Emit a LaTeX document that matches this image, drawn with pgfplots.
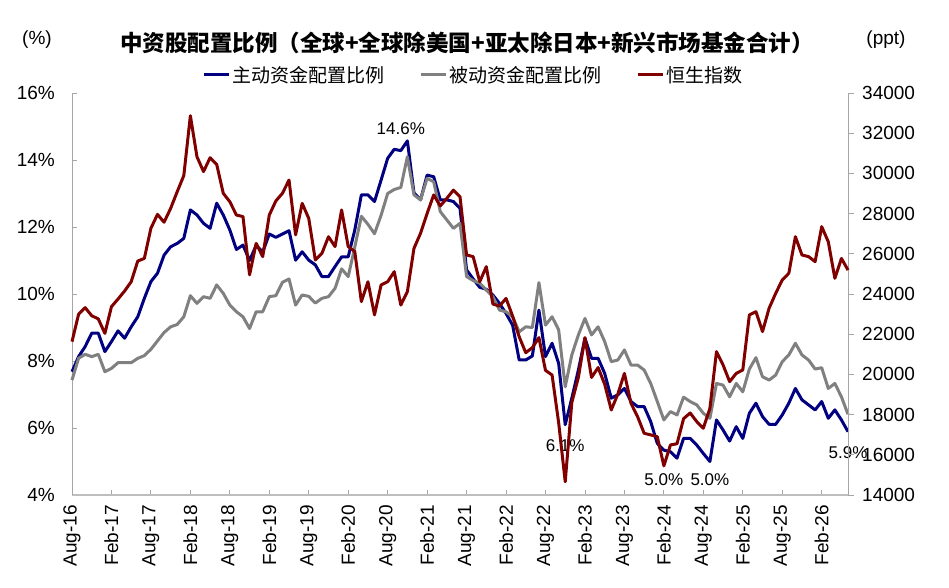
\documentclass[border=0pt]{standalone}
\usepackage{fontspec}
\setmainfont{Liberation Sans}
\newfontfamily\cjk{Noto Sans CJK SC}
\usepackage{pgfplots}
\usepackage{pgfplotstable}
\pgfplotsset{compat=1.18}
\definecolor{cblue}{RGB}{0,0,128}
\definecolor{cgray}{RGB}{128,128,128}
\definecolor{cred}{RGB}{128,0,0}
\definecolor{axgray}{RGB}{166,166,166}
\definecolor{axgrayb}{RGB}{190,190,190}

\pgfplotstableread{
i act pas hsi
0 7.68 7.43 21630
1 8.13 8.08 22990
2 8.43 8.20 23320
3 8.83 8.13 22920
4 8.83 8.20 22760
5 8.28 7.68 22040
6 8.58 7.78 23370
7 8.90 7.95 23750
8 8.68 7.95 24150
9 9.02 7.95 24610
10 9.32 8.08 25640
11 9.87 8.16 25770
12 10.37 8.35 27270
13 10.62 8.60 27960
14 11.16 8.85 27570
15 11.41 9.02 28260
16 11.51 9.09 29090
17 11.66 9.32 29890
18 12.51 9.95 32870
19 12.36 9.72 30830
20 12.11 9.92 30090
21 11.96 9.87 30780
22 12.71 10.27 30450
23 12.36 10.02 29010
24 11.91 9.67 28590
25 11.33 9.47 27930
26 11.46 9.32 27850
27 11.00 8.97 24950
28 11.45 9.47 26520
29 11.25 9.47 25860
30 11.79 9.92 27930
31 11.69 9.95 28630
32 11.79 10.35 29010
33 11.89 10.45 29670
34 11.01 9.67 26940
35 11.26 9.97 28510
36 11.01 9.93 27760
37 10.87 9.73 25690
38 10.52 9.87 26020
39 10.52 9.92 26850
40 10.82 10.17 26360
41 11.11 10.75 28180
42 11.11 10.52 26360
43 11.91 11.40 26110
44 12.96 12.32 23620
45 12.96 12.08 24610
46 12.76 11.80 22960
47 13.40 12.35 24450
48 14.05 13.00 24610
49 14.32 13.12 25110
50 14.28 13.18 23450
51 14.57 14.10 24120
52 13.02 12.96 26270
53 12.81 12.81 27020
54 13.55 13.45 28010
55 13.50 13.35 28930
56 12.81 12.46 28380
57 12.81 12.21 28760
58 12.76 11.96 29170
59 12.56 12.11 28840
60 10.72 10.52 25940
61 10.45 10.40 25860
62 10.20 10.32 24610
63 10.14 10.12 25360
64 9.97 9.92 23500
65 9.72 9.52 23400
66 9.42 9.47 23780
67 9.07 9.32 22900
68 8.03 8.87 21870
69 8.03 9.02 21080
70 8.15 9.00 21330
71 9.52 10.34 21830
72 8.13 9.07 20200
73 8.53 9.32 19970
74 7.93 8.93 17600
75 6.10 7.23 14660
76 6.89 8.18 18600
77 7.73 8.78 19850
78 8.68 9.27 21830
79 8.08 8.78 19850
80 8.08 9.02 20340
81 7.63 8.58 19510
82 6.89 7.98 18230
83 6.99 8.03 19020
84 7.18 8.33 20050
85 6.79 7.88 18560
86 6.64 7.88 17900
87 6.64 7.73 17070
88 6.19 7.33 16990
89 5.54 6.79 16900
90 5.34 6.24 15450
91 5.29 6.49 16490
92 5.10 6.39 16550
93 5.69 6.92 17800
94 5.69 6.79 18080
95 5.49 6.69 17650
96 5.24 6.44 17320
97 5.00 6.29 18310
98 6.24 7.33 21130
99 5.94 7.28 20470
100 5.61 6.93 19640
101 6.04 7.33 20050
102 5.69 7.08 20220
103 6.44 7.76 22960
104 6.74 8.10 23120
105 6.34 7.53 22130
106 6.11 7.43 23290
107 6.11 7.58 24030
108 6.39 7.98 24700
109 6.74 8.18 25030
110 7.18 8.53 26850
111 6.84 8.18 25940
112 6.69 8.03 25860
113 6.54 7.76 25610
114 6.79 7.80 27350
115 6.29 7.18 26600
116 6.54 7.33 24780
117 6.24 6.93 25770
118 5.89 6.41 25190
}\datatab

\begin{document}
\begin{tikzpicture}
\useasboundingbox (0,0) rectangle (949bp,588bp);
\begin{axis}[
  at={(72bp,93bp)}, anchor=south west,
  scale only axis, width=776bp, height=402bp,
  xmin=0, xmax=118, ymin=4, ymax=16,
  axis x line*=bottom, axis y line*=left,
  x axis line style={-, draw=axgrayb, line width=2.2bp},
  y axis line style={-, draw=axgray, line width=1bp},
  xtick={0,6,...,114},
  xticklabels={Aug-16,Feb-17,Aug-17,Feb-18,Aug-18,Feb-19,Aug-19,Feb-20,Aug-20,Feb-21,Aug-21,Feb-22,Aug-22,Feb-23,Aug-23,Feb-24,Aug-24,Feb-25,Aug-25,Feb-26},
  ytick={4,6,...,16},
  yticklabels={4\%,6\%,8\%,10\%,12\%,14\%,16\%},
  tick align=inside, major tick length=5bp,
  tick style={draw=axgray, line width=0.9bp},
  tick label style={font=\fontsize{19bp}{22bp}\selectfont, text=black},
  xticklabel style={yshift=-10bp, rotate=90, anchor=east, inner sep=0pt},
  yticklabel style={anchor=east, inner sep=0pt, xshift=-17bp},
  clip=false,
  legend style={at={(0.517,1.045)}, anchor=center, draw=none, fill=none,
    legend columns=3, font=\cjk\fontsize{19bp}{22bp}\selectfont,
    /tikz/every even column/.append style={column sep=33bp},
    nodes={inner sep=2bp}},
  legend image code/.code={\draw[#1] (0bp,0bp) -- (25bp,0bp);},
]
\addplot[cblue, line width=3bp, line join=round] table[x=i,y=act]{\datatab};
\addlegendentry{主动资金配置比例}
\addplot[cgray, line width=3bp, line join=round] table[x=i,y=pas]{\datatab};
\addlegendentry{被动资金配置比例}
\addlegendimage{cred, line width=3bp}
\addlegendentry{恒生指数}
\node[font=\fontsize{17bp}{20bp}\selectfont] at (axis cs:50,14.93) {14.6\%};
\node[font=\fontsize{17bp}{20bp}\selectfont] at (axis cs:75,5.46) {6.1\%};
\node[font=\fontsize{17bp}{20bp}\selectfont] at (axis cs:90,4.45) {5.0\%};
\node[font=\fontsize{17bp}{20bp}\selectfont] at (axis cs:97,4.45) {5.0\%};
\node[font=\fontsize{17bp}{20bp}\selectfont] at (axis cs:118,5.25) {5.9\%};
\end{axis}
\begin{axis}[
  at={(72bp,93bp)}, anchor=south west,
  scale only axis, width=776bp, height=402bp,
  xmin=0, xmax=118, ymin=14000, ymax=34000,
  axis y line*=right, axis x line=none,
  scaled y ticks=false,
  y axis line style={-, draw=axgray, line width=1bp},
  ytick={14000,16000,...,34000},
  yticklabels={14000,16000,18000,20000,22000,24000,26000,28000,30000,32000,34000},
  tick align=outside, major tick length=6bp,
  tick style={draw=axgray, line width=0.9bp},
  tick label style={font=\fontsize{19bp}{22bp}\selectfont, text=black},
  yticklabel style={anchor=west, inner sep=0pt, xshift=8bp},
  clip=false,
]
\addplot[cred, line width=3bp, line join=round] table[x=i,y=hsi]{\datatab};
\end{axis}
\node[font=\cjk\bfseries\fontsize{22.5bp}{26bp}\selectfont] at (467bp,545bp) {中资股配置比例（全球+全球除美国+亚太除日本+新兴市场基金合计）};
\node[font=\fontsize{19bp}{22bp}\selectfont] at (37bp,548bp) {(\%)};
\node[font=\fontsize{19bp}{22bp}\selectfont] at (886bp,548bp) {(ppt)};
\end{tikzpicture}
\end{document}
